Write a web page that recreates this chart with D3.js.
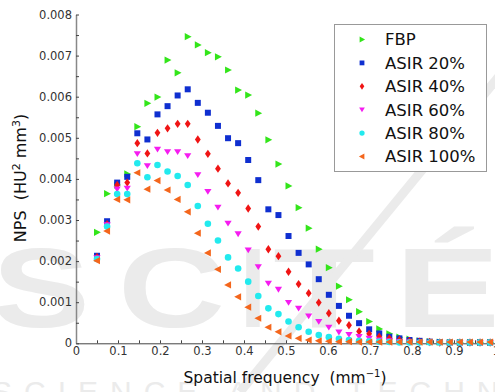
<!DOCTYPE html>
<html>
<head>
<meta charset="utf-8">
<script src="https://cdn.jsdelivr.net/npm/d3@7"></script>
<style>
  html, body { margin: 0; padding: 0; background: #fff; }
  svg { display: block; font-family: "DejaVu Sans", "Liberation Sans", Arial, sans-serif; }
</style>
</head>
<body>
<script>
// spatial frequency (mm^-1)
const freq = [0.050, 0.074, 0.098, 0.122, 0.146, 0.170, 0.194, 0.218, 0.242, 0.266,
  0.290, 0.314, 0.338, 0.362, 0.386, 0.410, 0.434, 0.458, 0.482, 0.506,
  0.530, 0.554, 0.578, 0.602, 0.626, 0.650, 0.674, 0.698, 0.722, 0.746,
  0.770, 0.794, 0.818, 0.842, 0.866, 0.890, 0.914, 0.938, 0.962, 0.986];

// NPS in units of 1e-3 HU^2 mm^3
const fbp = [2.70, 3.64, 3.85, 4.12, 5.27, 5.84, 5.99, 6.89, 6.58, 7.46,
  7.26, 7.07, 6.97, 6.65, 6.16, 6.04, 5.60, 4.95, 4.36, 3.83,
  3.30, 2.80, 2.29, 1.84, 1.39, 1.06, 0.77, 0.53, 0.35, 0.23,
  0.15, 0.10, 0.06, 0.04, 0.03, 0.02, 0.02, 0.02, 0.02, 0.02];
const asir20 = [2.13, 2.97, 3.91, 4.05, 5.11, 4.96, 5.57, 5.77, 6.03, 6.18,
  5.85, 5.61, 5.29, 4.99, 4.87, 4.46, 3.97, 3.26, 3.12, 2.61,
  2.20, 1.92, 1.56, 1.18, 0.91, 0.67, 0.49, 0.34, 0.24, 0.16,
  0.12, 0.08, 0.06, 0.04, 0.03, 0.02, 0.02, 0.02, 0.02, 0.02];
const asir40 = [2.10, 2.90, 3.85, 3.91, 4.87, 4.62, 5.12, 5.23, 5.34, 5.34,
  4.96, 4.61, 4.25, 3.89, 3.66, 3.28, 2.84, 2.29, 2.12, 1.74,
  1.44, 1.22, 0.99, 0.73, 0.55, 0.44, 0.29, 0.23, 0.16, 0.12,
  0.08, 0.06, 0.04, 0.03, 0.02, 0.02, 0.02, 0.02, 0.02, 0.02];
const asir60 = [2.08, 2.88, 3.75, 3.77, 4.61, 4.32, 4.72, 4.66, 4.66, 4.56,
  4.10, 3.69, 3.31, 2.92, 2.66, 2.27, 1.86, 1.46, 1.31, 0.99,
  0.85, 0.66, 0.53, 0.39, 0.27, 0.21, 0.16, 0.12, 0.08, 0.06,
  0.04, 0.03, 0.02, 0.02, 0.02, 0.02, 0.02, 0.02, 0.02, 0.02];
const asir80 = [2.05, 2.84, 3.63, 3.63, 4.38, 4.04, 4.34, 4.18, 4.07, 3.85,
  3.34, 2.91, 2.50, 2.09, 1.82, 1.50, 1.15, 0.85, 0.71, 0.53,
  0.39, 0.28, 0.20, 0.15, 0.11, 0.08, 0.06, 0.05, 0.04, 0.03,
  0.02, 0.02, 0.02, 0.02, 0.02, 0.02, 0.02, 0.02, 0.02, 0.02];
const asir100 = [2.01, 2.73, 3.50, 3.49, 4.15, 3.75, 3.96, 3.73, 3.50, 3.20,
  2.68, 2.20, 1.80, 1.42, 1.13, 0.88, 0.61, 0.39, 0.28, 0.18,
  0.12, 0.08, 0.06, 0.05, 0.04, 0.04, 0.03, 0.03, 0.03, 0.03,
  0.03, 0.03, 0.03, 0.03, 0.03, 0.03, 0.03, 0.03, 0.03, 0.03];

const seriesNames = ['FBP', 'ASIR 20%', 'ASIR 40%', 'ASIR 60%', 'ASIR 80%', 'ASIR 100%'];
const seriesValues = [fbp, asir20, asir40, asir60, asir80, asir100];
const seriesColors = ['#33e51a', '#0f2fd0', '#f01414', '#f51cf0', '#22eaee', '#f4661c'];

const xTicks = [0, 0.1, 0.2, 0.3, 0.4, 0.5, 0.6, 0.7, 0.8, 0.9, 1];
const yTicks = [0, 0.001, 0.002, 0.003, 0.004, 0.005, 0.006, 0.007, 0.008];

// marker shapes, one per series
const markers = [
  'M-3,-3.6L3.9,0L-3,3.6Z',          // right triangle
  'M-3,-3L3,-3L3,3L-3,3Z',            // square
  'M0,-4.2L2.9,0L0,4.2L-2.9,0Z',      // diamond
  'M-3.6,-2.6L3.6,-2.6L0,3.2Z',       // down triangle
  'M3.3,0A3.3,3.3,0,1,1,-3.3,0A3.3,3.3,0,1,1,3.3,0Z', // circle
  'M3,-3.6L-3.9,0L3,3.6Z'             // left triangle
];

const width = 495;
const height = 392;

const x = d3.scaleLinear().domain([0, 1]).range([76, 496]);
const y = d3.scaleLinear().domain([0, 0.008]).range([343.3, 14.5]);

const svg = d3.select('body')
  .append('svg')
  .attr('width', width)
  .attr('height', height)
  .attr('viewBox', [0, 0, width, height]);

// background watermark
const wm = svg.append('g')
  .attr('fill', '#ebebeb')
  .attr('font-family', '"Liberation Sans", Arial, sans-serif')
  .attr('font-weight', 'bold');
[['S', -8, 98], ['C', 118, 107], ['I', 240, 26], ['T', 273, 102], ['\u00c9', 395, 105]]
  .forEach(([ch, lx, lw]) => {
    wm.append('text')
      .attr('x', lx)
      .attr('y', 327)
      .attr('font-size', 114)
      .attr('textLength', lw)
      .attr('lengthAdjust', 'spacingAndGlyphs')
      .text(ch);
  });
wm.append('line')
  .attr('x1', 500).attr('y1', 75)
  .attr('x2', 240).attr('y2', 392)
  .attr('stroke', '#ebebeb')
  .attr('stroke-width', 9);
wm.append('text')
  .attr('x', -8)
  .attr('y', 402)
  .attr('font-size', 30)
  .attr('font-weight', 'normal')
  .attr('letter-spacing', 12)
  .text('SCIENCE AND TECHNOLOGY');

// Add the x-axis.
svg.append('g')
  .attr('transform', `translate(0,${y(0)})`)
  .call(d3.axisBottom(x)
    .tickValues(d3.range(0, 1.0001, 0.05))
    .tickSizeInner(-3)
    .tickSizeOuter(0)
    .tickPadding(4)
    .tickFormat(d => xTicks.some(t => Math.abs(t - d) < 1e-9) ? d3.format('~g')(+d.toFixed(2)) : ''))
  .call(g => g.attr('font-family', null))
  .call(g => g.select('.domain').attr('stroke', '#444'))
  .call(g => g.selectAll('.tick line').attr('stroke', '#444'))
  .call(g => g.selectAll('.tick text').attr('fill', '#333').style('font-size', '11.5px'));

// Add the y-axis.
svg.append('g')
  .attr('transform', `translate(${x(0)},0)`)
  .call(d3.axisLeft(y)
    .tickValues(d3.range(0, 0.00801, 0.0005))
    .tickSizeInner(-3)
    .tickSizeOuter(0)
    .tickPadding(4)
    .tickFormat(d => {
      const t = yTicks.find(v => Math.abs(v - d) < 1e-9);
      if (t === undefined) return '';
      return t === 0 ? '0' : d3.format('.3f')(t);
    }))
  .call(g => g.attr('font-family', null))
  .call(g => g.select('.domain').attr('stroke', '#888').attr('stroke-width', 1.5))
  .call(g => g.selectAll('.tick line').attr('stroke', '#444'))
  .call(g => g.selectAll('.tick text').attr('fill', '#333').style('font-size', '11.5px'));

// Add the points
seriesValues.forEach((vals, s) => {
  svg.append('g')
    .selectAll('path')
    .data(vals)
    .join('path')
    .attr('d', markers[s])
    .attr('transform', (d, i) => `translate(${x(freq[i])},${y(d / 1000)})`)
    .attr('fill', seriesColors[s]);
});

// axis labels
const xl = svg.append('text')
  .attr('x', 285)
  .attr('y', 383)
  .attr('text-anchor', 'middle')
  .attr('fill', '#111')
  .style('font-size', '15.5px');
xl.append('tspan').text('Spatial frequency \u00a0(mm');
xl.append('tspan').attr('dy', -6).style('font-size', '10px').text('\u22121');
xl.append('tspan').attr('dy', 6).text(')');

const yl = svg.append('text')
  .attr('transform', 'translate(26,178) rotate(-90)')
  .attr('text-anchor', 'middle')
  .attr('fill', '#111')
  .style('font-size', '16px');
yl.append('tspan').text('NPS \u00a0(HU');
yl.append('tspan').attr('dy', -6.5).style('font-size', '11px').text('2');
yl.append('tspan').attr('dy', 6.5).text(' mm');
yl.append('tspan').attr('dy', -6.5).style('font-size', '11px').text('3');
yl.append('tspan').attr('dy', 6.5).text(')');

// Handmade legend
const legend = svg.append('g');
legend.append('rect')
  .attr('x', 334.5)
  .attr('y', 24.5)
  .attr('width', 152)
  .attr('height', 147)
  .attr('fill', '#fff')
  .attr('stroke', '#999');
seriesNames.forEach((name, s) => {
  const cy = 39.5 + s * 23.4;
  legend.append('path')
    .attr('d', markers[s])
    .attr('transform', `translate(362,${cy}) scale(0.8)`)
    .attr('fill', seriesColors[s]);
  legend.append('text')
    .attr('x', 385)
    .attr('y', cy)
    .attr('dy', '0.36em')
    .attr('fill', '#111')
    .style('font-size', '16.5px')
    .text(name);
});
</script>
</body>
</html>
